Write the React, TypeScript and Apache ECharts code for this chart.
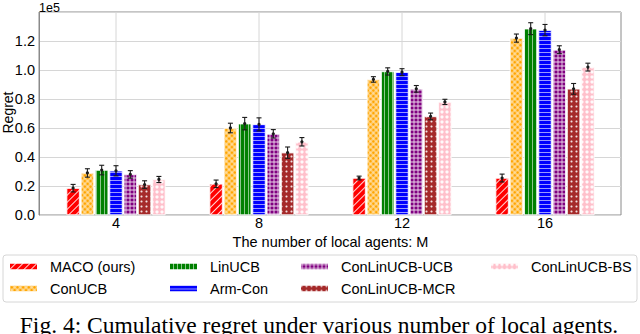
import React, { useEffect, useRef } from "react";
import * as echarts from "echarts";

const categories = ["4", "8", "12", "16"];
const seriesNames = ["MACO (ours)", "ConUCB", "LinUCB", "Arm-Con", "ConLinUCB-UCB", "ConLinUCB-MCR", "ConLinUCB-BS"];

const macoValues = [0.185, 0.215, 0.255, 0.255];
const conUcbValues = [0.29, 0.6, 0.935, 1.22];
const linUcbValues = [0.31, 0.63, 0.99, 1.285];
const armConValues = [0.305, 0.625, 0.985, 1.275];
const conLinUcbUcbValues = [0.28, 0.56, 0.87, 1.14];
const conLinUcbMcrValues = [0.21, 0.43, 0.68, 0.87];
const conLinUcbBsValues = [0.245, 0.505, 0.78, 1.02];

const macoErr = [0.026, 0.026, 0.013, 0.027];
const conUcbErr = [0.029, 0.033, 0.019, 0.028];
const linUcbErr = [0.033, 0.043, 0.025, 0.041];
const armConErr = [0.035, 0.045, 0.024, 0.039];
const conLinUcbUcbErr = [0.026, 0.029, 0.023, 0.027];
const conLinUcbMcrErr = [0.026, 0.039, 0.023, 0.037];
const conLinUcbBsErr = [0.021, 0.029, 0.018, 0.027];

const allValues = [macoValues, conUcbValues, linUcbValues, armConValues, conLinUcbUcbValues, conLinUcbMcrValues, conLinUcbBsValues];
const allErrs = [macoErr, conUcbErr, linUcbErr, armConErr, conLinUcbUcbErr, conLinUcbMcrErr, conLinUcbBsErr];

const colors = ["#ff0000", "#ffa500", "#008000", "#0000ff", "#800080", "#a52a2a", "#ffc0cb"];

const Y_MAX = 1.4;
const W = "rgba(255,255,255,0.85)";
const PLUS_X = "path://M0 1.5H4V2.5H0Z M1.5 0H2.5V4H1.5Z";
const PLUS = "path://M0 1.55H4V2.45H0Z M1.55 0H2.45V4H1.55Z";
const decals: any[] = [
  { symbol: "rect", color: W, dashArrayX: [1, 0], dashArrayY: [1, 4], rotation: -Math.PI / 4 },
  { symbol: PLUS_X, symbolKeepAspect: false, color: "rgba(255,255,255,0.8)", dashArrayX: [3.2, 0], dashArrayY: [3.2, 0], rotation: Math.PI / 4 },
  { symbol: "rect", color: "rgba(255,255,255,0.55)", dashArrayX: [1, 2.3], dashArrayY: [1, 0] },
  { symbol: "rect", color: "rgba(255,255,255,0.6)", dashArrayX: [1, 0], dashArrayY: [1, 2.2] },
  { symbol: PLUS, symbolKeepAspect: false, color: "rgba(255,255,255,0.85)", dashArrayX: [3.2, 0], dashArrayY: [3.2, 0] },
  { symbol: "circle", color: W, symbolSize: 0.7, dashArrayX: [3, 1.5], dashArrayY: [3, 1.5] },
  { symbol: "circle", color: "rgba(255,255,255,0.9)", symbolSize: 0.8, dashArrayX: [3.5, 1], dashArrayY: [3.5, 1] },
];

const BAR_W = 13;
const BAR_GAP = 0.1;
const FONT = "Liberation Sans";

export default function App() {
  const ref = useRef<HTMLDivElement>(null);
  useEffect(() => {
    document.body.style.margin = "0";
    const chart = echarts.init(ref.current!, undefined, { renderer: "svg" });

    const barSeries = seriesNames.map((name, k) => ({
      name,
      type: "bar",
      xAxisIndex: 1,
      yAxisIndex: 1,
      barWidth: BAR_W,
      barGap: `${BAR_GAP * 100}%`,
      data: allValues[k],
      itemStyle: { color: colors[k], borderColor: "#ffffff", borderWidth: 0.5, decal: decals[k] },
      emphasis: { disabled: true },
      z: 2,
    }));

    const errData: number[][] = [];
    allValues.forEach((vals, k) => vals.forEach((v, i) => errData.push([i, v, allErrs[k][i], k])));

    const errSeries = {
      type: "custom",
      xAxisIndex: 1,
      yAxisIndex: 1,
      data: errData,
      encode: { x: 0, y: 1 },
      z: 5,
      renderItem: (params: any, api: any) => {
        const g = api.value(0);
        const v = api.value(1);
        const e = api.value(2);
        const k = api.value(3);
        const off = (k - 3) * BAR_W * (1 + BAR_GAP);
        const c = api.coord([g, v]);
        const x = c[0] + off;
        const yT = api.coord([g, v + e])[1];
        const yB = api.coord([g, v - e])[1];
        const st = { stroke: "#1a1a1a", lineWidth: 1.1 };
        return {
          type: "group",
          children: [
            { type: "line", shape: { x1: x, y1: yT, x2: x, y2: yB }, style: st },
            { type: "line", shape: { x1: x - 2.5, y1: yT, x2: x + 2.5, y2: yT }, style: st },
            { type: "line", shape: { x1: x - 2.5, y1: yB, x2: x + 2.5, y2: yB }, style: st },
            { type: "circle", shape: { cx: x, cy: c[1], r: 1.6 }, style: { fill: "#1a1a1a" } },
          ],
        };
      },
    };

    const vGridSeries = {
      type: "custom",
      xAxisIndex: 1,
      yAxisIndex: 1,
      data: categories.map((_, i) => [i, Y_MAX]),
      encode: { x: 0, y: 1 },
      z: 1,
      silent: true,
      renderItem: (params: any, api: any) => {
        const i = api.value(0);
        const top = api.coord([i, Y_MAX]);
        const bottom = api.coord([i, 0]);
        return {
          type: "line",
          shape: { x1: top[0], y1: top[1], x2: bottom[0], y2: bottom[1] },
          style: { stroke: "#d6d6d6", lineWidth: 1 },
        };
      },
    };

    const legendBase = {
      orient: "vertical",
      icon: "rect",
      itemWidth: 29,
      itemHeight: 8,
      itemGap: 6,
      padding: 0,
      selectedMode: false,
      textStyle: { fontSize: 14.5, fontFamily: FONT, color: "#000", lineHeight: 16, padding: [0, 0, 0, 7] },
      top: 258.5,
    };

    chart.setOption({
      animation: false,
      backgroundColor: "#ffffff",
      textStyle: { fontFamily: FONT },
      grid: [
        { left: 39, right: 19, top: 12, bottom: 119, show: true, borderColor: "#8a8a8a", borderWidth: 1, backgroundColor: "transparent" },
        { left: 44.5, right: 23.5, top: 12, bottom: 119 },
      ],
      xAxis: [
        { type: "value", gridIndex: 0, min: 0, max: 1, show: false },
        {
          type: "category",
          gridIndex: 1,
          data: categories,
          boundaryGap: true,
          name: "The number of local agents: M",
          nameLocation: "middle",
          nameGap: 19,
          nameTextStyle: { fontSize: 14.5, color: "#000", fontFamily: FONT },
          axisLine: { show: false },
          axisTick: { show: false },
          axisLabel: { fontSize: 14.5, color: "#000", margin: 0 },
          splitLine: { show: false },
        },
      ],
      yAxis: [
        {
          type: "value",
          gridIndex: 0,
          min: 0,
          max: Y_MAX,
          interval: 0.2,
          axisLine: { show: true, onZero: false, lineStyle: { color: "#8a8a8a" } },
          axisTick: { show: false },
          axisLabel: {
            fontSize: 14.5,
            color: "#000",
            margin: 4,
            formatter: (v: number) => (v > 1.3 ? "" : v.toFixed(1)),
          },
          splitLine: { show: true, lineStyle: { color: "#d6d6d6", width: 1 } },
        },
        { type: "value", gridIndex: 1, min: 0, max: Y_MAX, show: false, splitLine: { show: false } },
      ],
      legend: [
        { ...legendBase, left: 8, data: [seriesNames[0], seriesNames[1]] },
        { ...legendBase, left: 168, data: [seriesNames[2], seriesNames[3]] },
        { ...legendBase, left: 299, data: [seriesNames[4], seriesNames[5]] },
        { ...legendBase, left: 489, data: [seriesNames[6]] },
      ],
      graphic: [
        { type: "text", left: 39, top: 1, style: { text: "1e5", fontSize: 12.5, fontFamily: FONT, fill: "#000" } },
        {
          type: "text",
          x: 7.5,
          y: 112.5,
          rotation: Math.PI / 2,
          style: { text: "Regret", fontSize: 14, fontFamily: FONT, fill: "#000", align: "center", verticalAlign: "middle" },
        },
        { type: "rect", shape: { x: 3, y: 255, width: 634, height: 47, r: 3 }, style: { fill: "none", stroke: "#d6d6d6", lineWidth: 1 }, z: -1 },
        {
          type: "text",
          x: 319,
          y: 324.5,
          style: {
            text: "Fig. 4: Cumulative regret under various number of local agents.",
            fontSize: 23.5,
            fontFamily: "Liberation Serif",
            fill: "#000",
            align: "center",
            verticalAlign: "middle",
          },
        },
      ],
      series: [vGridSeries, ...barSeries, errSeries],
    });
    return () => chart.dispose();
  }, []);
  return <div ref={ref} style={{ position: "fixed", left: 0, top: 0, width: 640, height: 334 }} />;
}
